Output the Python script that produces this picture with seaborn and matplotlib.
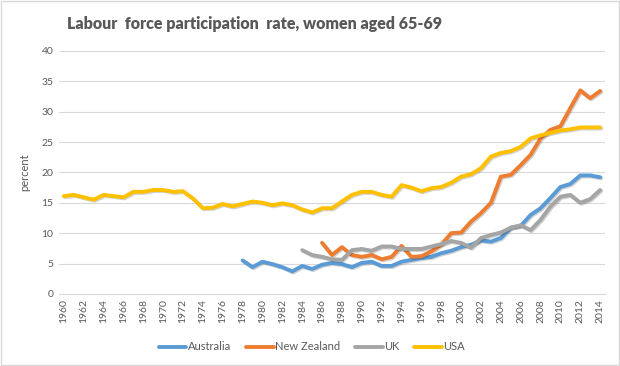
import numpy as np
import pandas as pd
import matplotlib
matplotlib.use('Agg')
import matplotlib.pyplot as plt
import matplotlib.patheffects as pe
import seaborn as sns

# Years and participation rates (percent)
years = list(range(1960, 2015))

usa = [16.1, 16.3, 15.9, 15.5, 16.3, 16.1, 15.9, 16.8, 16.8, 17.1,
       17.1, 16.8, 16.9, 15.7, 14.1, 14.2, 14.8, 14.4, 14.8, 15.2,
       15.0, 14.6, 14.9, 14.6, 13.9, 13.4, 14.1, 14.1, 15.2, 16.3,
       16.8, 16.8, 16.3, 16.0, 17.9, 17.5, 16.9, 17.4, 17.6, 18.3,
       19.3, 19.7, 20.7, 22.6, 23.2, 23.5, 24.2, 25.6, 26.1, 26.5,
       26.9, 27.1, 27.4, 27.4, 27.4]

# Australia from 1978
australia = [5.5, 4.4, 5.3, 4.9, 4.4, 3.7, 4.6, 4.1, 4.8, 5.1,
             4.9, 4.4, 5.1, 5.3, 4.6, 4.6, 5.3, 5.6, 5.9, 6.1,
             6.7, 7.1, 7.7, 8.1, 8.8, 8.6, 9.2, 10.9, 11.2, 13.0,
             14.1, 15.8, 17.6, 18.1, 19.5, 19.5, 19.2]

# New Zealand from 1986
new_zealand = [8.4, 6.4, 7.7, 6.4, 6.1, 6.4, 5.7, 6.1, 7.9, 6.1,
               6.2, 7.0, 8.1, 10.0, 10.1, 11.9, 13.3, 15.0, 19.3, 19.6,
               21.2, 22.9, 25.6, 27.0, 27.6, 30.6, 33.5, 32.2, 33.4]

# UK from 1984
uk = [7.2, 6.4, 6.1, 5.7, 5.6, 7.2, 7.4, 7.1, 7.8, 7.8,
      7.4, 7.4, 7.4, 7.8, 8.2, 8.7, 8.4, 7.6, 9.2, 9.7,
      10.1, 10.9, 11.3, 10.5, 12.2, 14.4, 16.0, 16.3, 15.0, 15.6,
      17.1]

def pad(values):
    return [np.nan] * (len(years) - len(values)) + values

df = pd.DataFrame({
    'year': years,
    'Australia': pad(australia),
    'New Zealand': pad(new_zealand),
    'UK': pad(uk),
    'USA': usa,
})
long_df = df.melt(id_vars='year', var_name='country', value_name='percent')

colors = {'Australia': '#5B9BD5', 'New Zealand': '#ED7D31',
          'UK': '#A5A5A5', 'USA': '#FFC000'}

sns.set_style('white')
plt.rcParams['font.family'] = ['Lato', 'DejaVu Sans']

fig = plt.figure(figsize=(6.2, 3.66), dpi=100)
ax = fig.add_axes([0.095, 0.197, 0.881, 0.664])

sns.lineplot(data=long_df, x='year', y='percent', hue='country',
             hue_order=['Australia', 'New Zealand', 'UK', 'USA'],
             palette=colors, linewidth=2.8, ax=ax, legend=False)
for line in ax.get_lines():
    line.set_solid_capstyle('round')
    line.set_path_effects([pe.SimpleLineShadow(offset=(0.8, -0.8), alpha=0.18),
                           pe.Normal()])

ax.set_xlim(1959.5, 2014.5)
ax.set_ylim(0, 40)
ax.set_yticks(range(0, 41, 5))
ax.set_xticks(range(1960, 2015, 2))
ax.set_xticklabels([str(y) for y in range(1960, 2015, 2)], rotation=90)
ax.tick_params(axis='both', labelsize=7.5, labelcolor='#595959', length=0, pad=4)
ax.grid(axis='y', color='#D9D9D9', linewidth=0.8)
ax.set_axisbelow(True)
for side in ['top', 'right', 'left']:
    ax.spines[side].set_visible(False)
ax.spines['bottom'].set_color('#D9D9D9')
ax.set_xlabel('')
ax.set_ylabel('percent', fontsize=8, color='#595959', labelpad=8)

fig.suptitle('Labour  force participation  rate, women aged 65-69',
             x=0.41, y=0.955, fontsize=11.5, fontweight='heavy', color='#595959')

handles = [plt.Line2D([], [], color=colors[c], linewidth=2.8, solid_capstyle='round')
           for c in colors]
fig.legend(handles, list(colors), loc='center', bbox_to_anchor=(0.503, 0.052),
           ncol=4, frameon=False, fontsize=8, handlelength=2.5, handletextpad=0.15,
           columnspacing=1.3, labelcolor='#595959')

fig.patches.append(plt.Rectangle((0.001, 0.002), 0.997, 0.995, transform=fig.transFigure,
                                 fill=False, edgecolor='#D9D9D9', linewidth=1))

fig.savefig('out.png', dpi=100)
